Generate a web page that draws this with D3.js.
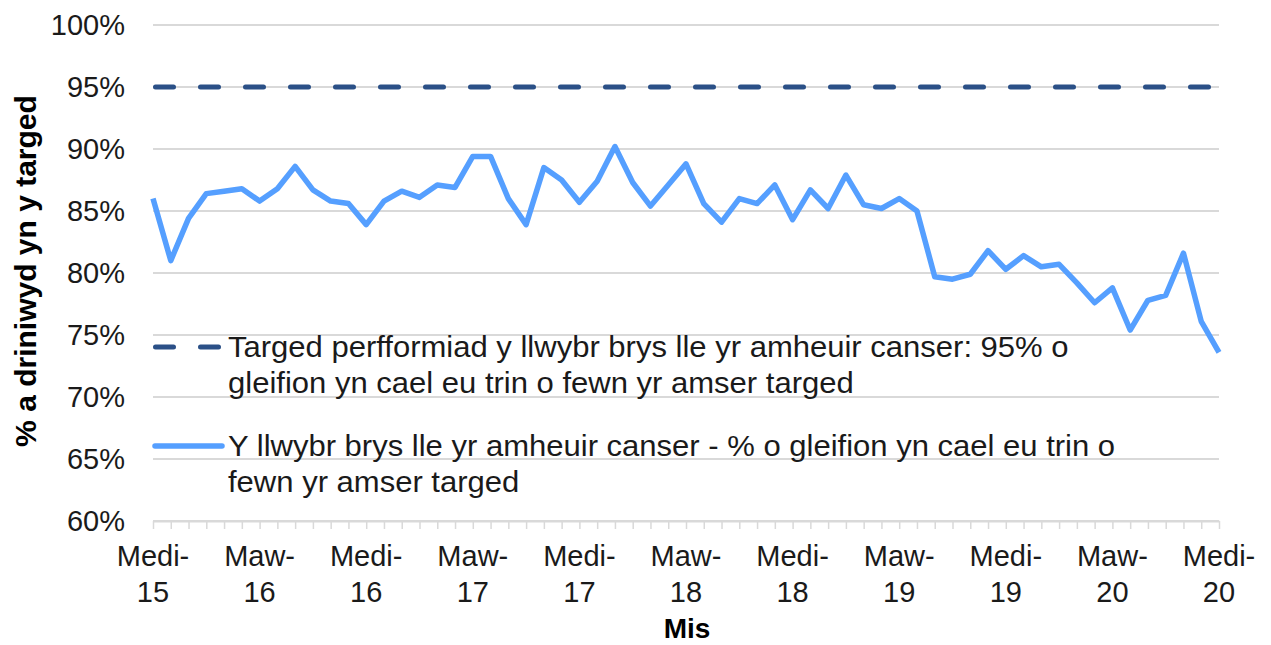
<!DOCTYPE html>
<html>
<head>
<meta charset="utf-8">
<script src="https://cdn.jsdelivr.net/npm/d3@7"></script>
<style>
  body { margin: 0; background: #fff; }
  svg { display: block; font-family: "Liberation Sans", Arial, sans-serif; }
</style>
</head>
<body>
<div class="chart"></div>
<script>
var svgWidth = 1271;
var svgHeight = 645;

// Welsh month names, series runs Medi-15 .. Medi-20
var monthNames = ["Ion", "Chwef", "Maw", "Ebr", "Mai", "Meh", "Gorff", "Awst", "Medi", "Hyd", "Tach", "Rhag"];
var months = [];
for (var k = 0; k < 61; k++) {
  var m = (8 + k) % 12;
  var yr = 15 + Math.floor((8 + k) / 12);
  months.push(monthNames[m] + "-" + yr);
}

// % of patients treated within target time
var actualValues = [
  86.0, 81.0, 84.4, 86.4, 86.6, 86.8, 85.8, 86.8, 88.6, 86.7,
  85.8, 85.6, 83.9, 85.8, 86.6, 86.1, 87.1, 86.9, 89.4, 89.4,
  86.0, 83.9, 88.5, 87.5, 85.7, 87.4, 90.2, 87.3, 85.4, 87.1,
  88.8, 85.6, 84.1, 86.0, 85.6, 87.1, 84.3, 86.7, 85.2, 87.9,
  85.5, 85.2, 86.0, 85.0, 79.7, 79.5, 79.9, 81.8, 80.3, 81.4,
  80.5, 80.7, 79.2, 77.6, 78.8, 75.4, 77.8, 78.2, 81.6, 76.1,
  73.6
];
var targetValue = 95;

var yTicks = [60, 65, 70, 75, 80, 85, 90, 95, 100];
var labelMonths = ["Medi-15", "Maw-16", "Medi-16", "Maw-17", "Medi-17", "Maw-18",
  "Medi-18", "Maw-19", "Medi-19", "Maw-20", "Medi-20"];

var legendLabels = [
  ["Targed perfformiad y llwybr brys lle yr amheuir canser: 95% o",
   "gleifion yn cael eu trin o fewn yr amser targed"],
  ["Y llwybr brys lle yr amheuir canser - % o gleifion yn cael eu trin o",
   "fewn yr amser targed"]
];

var targetColor = "#2b5087";
var lineColor = "#559fff";

var svg = d3.select(".chart")
  .append("svg")
  .attr("width", svgWidth)
  .attr("height", svgHeight);

var x = d3.scalePoint()
  .domain(months)
  .range([153, 1219]);

var y = d3.scaleLinear()
  .domain([60, 100])
  .range([521, 25]);

// gridlines
svg.append("g")
  .selectAll("line")
  .data(yTicks)
  .enter()
  .append("line")
  .attr("x1", 153)
  .attr("x2", 1219)
  .attr("y1", d => y(d))
  .attr("y2", d => y(d))
  .attr("stroke", "#d9d9d9")
  .attr("stroke-width", 2);

// y tick labels
var leftAxis = d3.axisLeft(y)
  .tickValues(yTicks)
  .tickSize(0)
  .tickPadding(0)
  .tickFormat(d => d + "%");

var yAxis = svg.append("g")
  .attr("transform", "translate(125, 0)")
  .call(leftAxis);
yAxis.select(".domain").remove();
yAxis.selectAll("text")
  .attr("font-size", 29)
  .attr("font-family", "Liberation Sans, Arial, sans-serif")
  .attr("fill", "#1a1a1a");

// x axis with a tick each month
var bottomAxis = d3.axisBottom(x)
  .tickSize(8)
  .tickSizeOuter(0)
  .tickFormat("");

var xAxis = svg.append("g")
  .attr("transform", "translate(0, 521)")
  .call(bottomAxis);
xAxis.select(".domain").attr("stroke", "#d9d9d9").attr("stroke-width", 2);
xAxis.selectAll(".tick line").attr("stroke", "#d9d9d9").attr("stroke-width", 1.5);

var xLabels = svg.append("g")
  .selectAll("text")
  .data(labelMonths)
  .enter()
  .append("text")
  .attr("x", d => x(d))
  .attr("text-anchor", "middle")
  .attr("font-size", 29)
  .attr("fill", "#1a1a1a");
xLabels.append("tspan")
  .attr("x", d => x(d))
  .attr("y", 566)
  .text(d => d.split("-")[0] + "-");
xLabels.append("tspan")
  .attr("x", d => x(d))
  .attr("y", 602)
  .text(d => d.split("-")[1]);

// axis titles
svg.append("text")
  .attr("x", 687)
  .attr("y", 638)
  .attr("text-anchor", "middle")
  .attr("font-size", 28)
  .attr("font-weight", "bold")
  .attr("fill", "#000")
  .text("Mis");

svg.append("text")
  .attr("transform", "translate(36, 271) rotate(-90)")
  .attr("text-anchor", "middle")
  .attr("font-size", 30)
  .attr("font-weight", "bold")
  .attr("fill", "#000")
  .text("% a driniwyd yn y targed");

// target line
svg.append("line")
  .attr("x1", x(months[0]))
  .attr("x2", x(months[months.length - 1]))
  .attr("y1", y(targetValue))
  .attr("y2", y(targetValue))
  .attr("stroke", targetColor)
  .attr("stroke-width", 5)
  .attr("stroke-linecap", "round")
  .attr("stroke-dasharray", "18,27")
  .attr("transform", "translate(2.5,0)");

// actual line
var line = d3.line()
  .x((d, i) => x(months[i]))
  .y(d => y(d));

svg.append("path")
  .datum(actualValues)
  .attr("d", line)
  .attr("fill", "none")
  .attr("stroke", lineColor)
  .attr("stroke-width", 5.5)
  .attr("stroke-linejoin", "round");

// legend
var legendY = [347, 446];
var legend = svg.append("g");

legend.append("line")
  .attr("x1", 155.5).attr("x2", 222)
  .attr("y1", legendY[0]).attr("y2", legendY[0])
  .attr("stroke", targetColor)
  .attr("stroke-width", 5)
  .attr("stroke-linecap", "round")
  .attr("stroke-dasharray", "18,27");

legend.append("line")
  .attr("x1", 155).attr("x2", 222)
  .attr("y1", legendY[1]).attr("y2", legendY[1])
  .attr("stroke", lineColor)
  .attr("stroke-width", 5.5)
  .attr("stroke-linecap", "round");

legendLabels.forEach(function(lines, i) {
  var t = legend.append("text")
    .attr("transform", "translate(228, 0) scale(1.07, 1)")
    .attr("font-size", 29)
    .attr("fill", "#1a1a1a");
  lines.forEach(function(s, j) {
    t.append("tspan")
      .attr("x", 0)
      .attr("y", legendY[i] + 10 + j * 36.5)
      .text(s);
  });
});
</script>
</body>
</html>
